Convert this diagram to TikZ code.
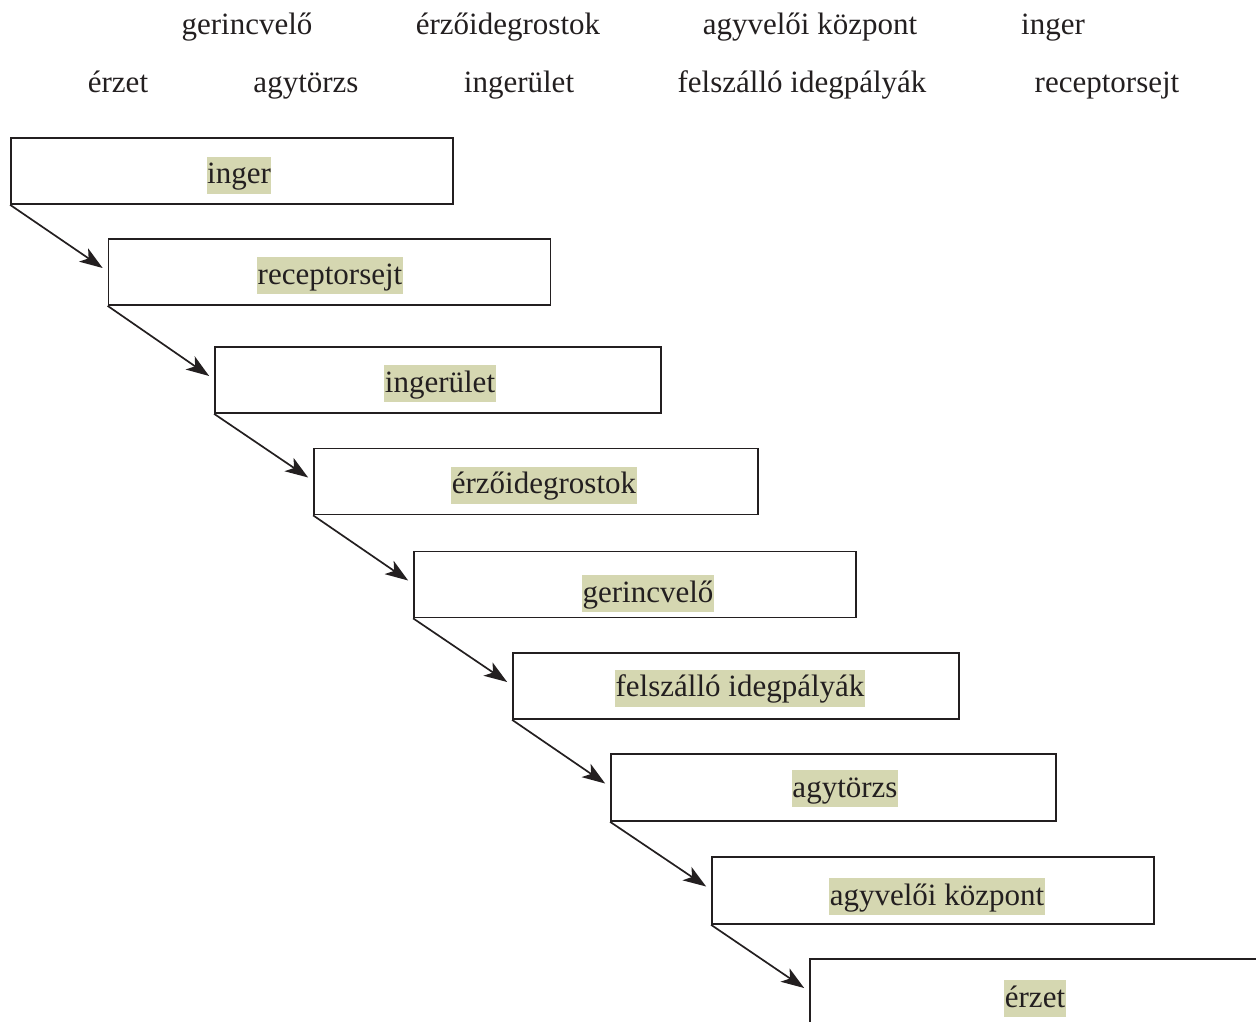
\documentclass[tikz,border=0pt]{standalone}
\usepackage{fontspec}
\setmainfont{Liberation Serif}
\usetikzlibrary{arrows.meta}
\definecolor{hlfill}{HTML}{D5D7B1}
\definecolor{ink}{HTML}{231F20}
\tikzset{
  stepbox/.style={draw=ink, line width=1.7pt, fill=white, minimum width=442pt, minimum height=66pt, inner sep=0pt},
  hl/.style={fill=hlfill, text=ink, font=\fontsize{31}{36}\selectfont, text height=25pt, text depth=8pt, inner xsep=0.5pt, inner ysep=2pt},
  word/.style={text=ink, font=\fontsize{31}{36}\selectfont, anchor=base, inner sep=0pt},
  arr/.style={draw=ink, line width=1.7pt, -{Stealth[length=23pt,width=16pt,inset=6pt]}}
}
\begin{document}
\begin{tikzpicture}[x=1pt,y=-1pt]
\useasboundingbox (0,0) rectangle (1256,1021);
\clip (0,0) rectangle (1256,1021);
% word bank
\node[word] (w1) at (247,34) {gerincvelő};
\node[word] (w2) at (508,34) {érzőidegrostok};
\node[word] (w3) at (810,34) {agyvelői központ};
\node[word] (w4) at (1053,34) {inger};
\node[word] (w5) at (118,92) {érzet};
\node[word] (w6) at (306,92) {agytörzs};
\node[word] (w7) at (519,92) {ingerület};
\node[word] (w8) at (802,92) {felszálló idegpályák};
\node[word] (w9) at (1107,92) {receptorsejt};
% boxes
\node[stepbox] (b1) at (232,171) {};
\node[stepbox] (b2) at (329.5,272) {};
\node[stepbox, minimum width=446pt] (b3) at (438,380) {};
\node[stepbox, minimum width=444pt] (b4) at (536,481.5) {};
\node[stepbox] (b5) at (635,584.5) {};
\node[stepbox, minimum width=446pt] (b6) at (736,686) {};
\node[stepbox, minimum width=445pt, minimum height=67pt] (b7) at (833.5,787.5) {};
\node[stepbox, minimum height=67pt] (b8) at (933,890.5) {};
\node[stepbox, minimum width=450pt] (b9) at (1035,992) {};
% labels
\node[hl] (t1) at (239,175) {inger};
\node[hl] (t2) at (330,275.5) {receptorsejt};
\node[hl] (t3) at (440,383.5) {ingerület};
\node[hl] (t4) at (544,485) {érzőidegrostok};
\node[hl] (t5) at (648,593.5) {gerincvelő};
\node[hl] (t6) at (740,688) {felszálló idegpályák};
\node[hl] (t7) at (845,788.5) {agytörzs};
\node[hl] (t8) at (937,896.5) {agyvelői központ};
\node[hl] (t9) at (1035,998.5) {érzet};
% arrows
\draw[arr] (b1.south west) -- ([xshift=-5pt,yshift=4pt]b2.west);
\draw[arr] (b2.south west) -- ([xshift=-5pt,yshift=4pt]b3.west);
\draw[arr] (b3.south west) -- ([xshift=-5pt,yshift=4pt]b4.west);
\draw[arr] (b4.south west) -- ([xshift=-5pt,yshift=4pt]b5.west);
\draw[arr] (b5.south west) -- ([xshift=-5pt,yshift=4pt]b6.west);
\draw[arr] (b6.south west) -- ([xshift=-5pt,yshift=4pt]b7.west);
\draw[arr] (b7.south west) -- ([xshift=-5pt,yshift=4pt]b8.west);
\draw[arr] (b8.south west) -- ([xshift=-5pt,yshift=4pt]b9.west);
\end{tikzpicture}
\end{document}
